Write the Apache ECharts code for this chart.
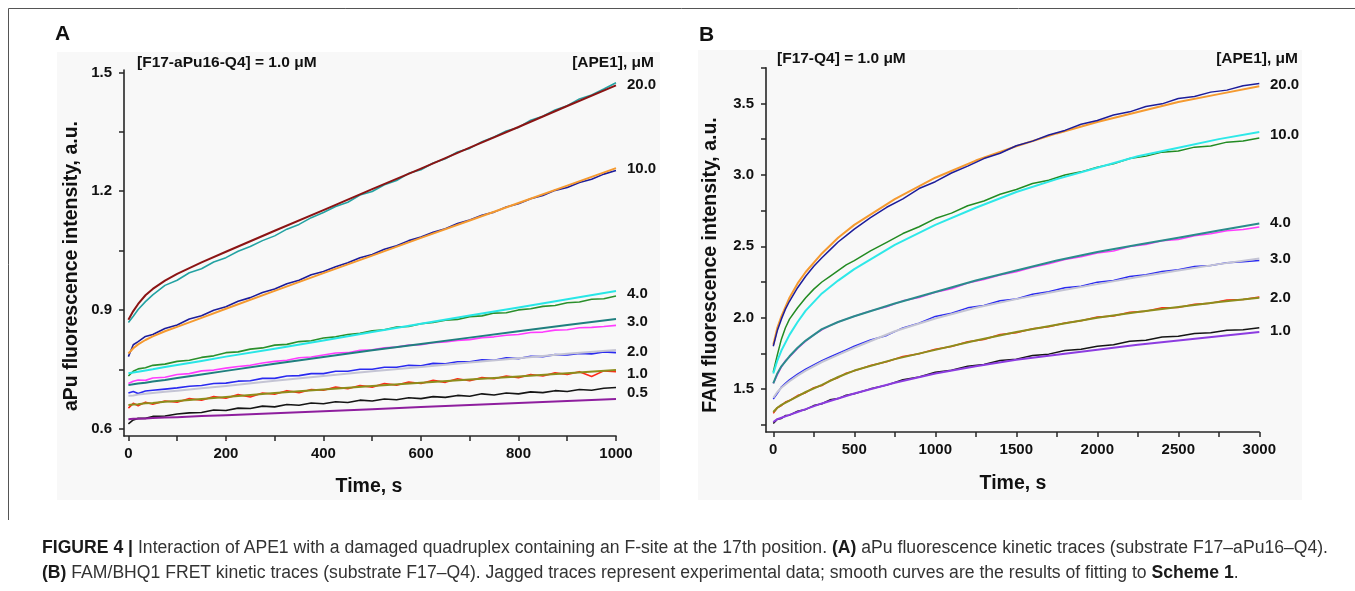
<!DOCTYPE html>
<html>
<head>
<meta charset="utf-8">
<script src="https://cdn.jsdelivr.net/npm/echarts@6/dist/echarts.min.js"></script>
<style>
html,body{margin:0;padding:0;background:#fff;}
#wrap{position:relative;width:1355px;height:591px;}
#chart{position:absolute;left:0;top:0;width:1355px;height:591px;}
#cap{position:absolute;left:42px;top:535px;width:1286px;font-family:"Liberation Sans",Arial,sans-serif;font-size:17.6px;line-height:25px;color:#333;}
#cap b{color:#1a1a1a;}
#cap .l1{text-align:justify;text-align-last:justify;white-space:nowrap;}
#cap .l2{white-space:nowrap;}
</style>
</head>
<body>
<div id="wrap">
<div id="chart"></div>
<div id="cap">
<div class="l1"><b>FIGURE 4 |</b> Interaction of APE1 with a damaged quadruplex containing an F-site at the 17th position. <b>(A)</b> aPu fluorescence kinetic traces (substrate F17–aPu16–Q4).</div>
<div class="l2"><b>(B)</b> FAM/BHQ1 FRET kinetic traces (substrate F17–Q4). Jagged traces represent experimental data; smooth curves are the results of fitting to <b>Scheme 1</b>.</div>
</div>
</div>
<script>
// ---------- Panel A : aPu fluorescence (substrate F17-aPu16-Q4) ----------
const tDataA = [0,10,20,35,50,75,100,125,150,175,200,225,250,275,300,325,350,375,400,425,450,475,500,525,550,575,600,625,650,675,700,725,750,775,800,825,850,875,900,925,950,975,1000];
const dataA20 = [0.868,0.884,0.901,0.921,0.938,0.962,0.975,0.994,1.004,1.021,1.032,1.048,1.060,1.075,1.087,1.104,1.116,1.133,1.146,1.161,1.172,1.190,1.199,1.216,1.227,1.245,1.254,1.271,1.282,1.299,1.308,1.325,1.337,1.352,1.361,1.379,1.389,1.405,1.416,1.433,1.443,1.458,1.474];
const dataA10 = [0.782,0.812,0.820,0.833,0.838,0.853,0.862,0.877,0.885,0.899,0.908,0.922,0.931,0.944,0.953,0.966,0.975,0.989,0.997,1.009,1.019,1.032,1.040,1.053,1.062,1.075,1.084,1.096,1.105,1.118,1.127,1.139,1.147,1.160,1.168,1.181,1.189,1.202,1.209,1.222,1.230,1.243,1.252];
const dataA4 = [0.733,0.745,0.751,0.754,0.760,0.763,0.770,0.773,0.780,0.784,0.792,0.794,0.801,0.804,0.811,0.813,0.820,0.822,0.829,0.832,0.838,0.841,0.847,0.850,0.857,0.858,0.865,0.868,0.874,0.876,0.883,0.885,0.892,0.893,0.900,0.903,0.909,0.911,0.918,0.920,0.927,0.928,0.935];
const dataA3 = [0.714,0.720,0.723,0.722,0.728,0.730,0.737,0.739,0.746,0.748,0.753,0.757,0.760,0.766,0.770,0.773,0.779,0.781,0.786,0.791,0.792,0.798,0.799,0.804,0.806,0.811,0.812,0.817,0.819,0.823,0.825,0.830,0.832,0.836,0.838,0.843,0.844,0.849,0.850,0.855,0.856,0.858,0.861];
const dataA2 = [0.690,0.694,0.689,0.695,0.697,0.700,0.703,0.707,0.709,0.714,0.715,0.720,0.721,0.727,0.727,0.733,0.734,0.739,0.739,0.745,0.745,0.750,0.750,0.755,0.755,0.760,0.759,0.765,0.764,0.769,0.769,0.774,0.773,0.779,0.777,0.783,0.782,0.787,0.786,0.790,0.789,0.794,0.792];
const dataA1 = [0.652,0.664,0.658,0.667,0.662,0.670,0.667,0.676,0.672,0.681,0.677,0.686,0.680,0.690,0.687,0.696,0.691,0.699,0.697,0.705,0.701,0.709,0.705,0.714,0.710,0.718,0.714,0.722,0.717,0.726,0.721,0.729,0.726,0.733,0.729,0.737,0.733,0.741,0.737,0.744,0.732,0.746,0.744];
const dataA05 = [0.612,0.622,0.626,0.626,0.631,0.632,0.637,0.640,0.641,0.647,0.646,0.652,0.651,0.657,0.655,0.661,0.659,0.665,0.663,0.668,0.666,0.672,0.670,0.675,0.673,0.678,0.676,0.681,0.679,0.684,0.682,0.688,0.685,0.690,0.688,0.693,0.691,0.696,0.694,0.699,0.697,0.702,0.704];

const tFitA = [0,10,20,35,50,75,100,150,200,300,400,500,600,700,800,900,1000];
const fitA20 = [0.875,0.897,0.915,0.937,0.953,0.974,0.991,1.020,1.047,1.100,1.152,1.205,1.257,1.310,1.362,1.415,1.467];
const fitA10 = [0.790,0.803,0.813,0.824,0.833,0.846,0.857,0.880,0.903,0.948,0.993,1.037,1.082,1.126,1.170,1.214,1.258];
const fitA4 = [0.740,0.742,0.744,0.747,0.750,0.756,0.761,0.771,0.782,0.802,0.823,0.844,0.865,0.886,0.906,0.927,0.948];
const fitA3 = [0.710,0.712,0.714,0.716,0.719,0.723,0.728,0.737,0.746,0.764,0.781,0.798,0.814,0.830,0.846,0.862,0.877];
const fitA2 = [0.683,0.684,0.686,0.688,0.690,0.693,0.696,0.702,0.708,0.721,0.733,0.745,0.756,0.767,0.778,0.789,0.799];
const fitA1 = [0.660,0.661,0.662,0.664,0.665,0.668,0.670,0.675,0.680,0.690,0.699,0.708,0.716,0.724,0.732,0.740,0.748];
const fitA05 = [0.624,0.625,0.625,0.626,0.627,0.628,0.629,0.632,0.634,0.639,0.644,0.649,0.655,0.660,0.665,0.670,0.675];

const xTicksA = [0,100,200,300,400,500,600,700,800,900,1000];
const xLabelsA = [0,200,400,600,800,1000];
const yTicksA = [0.6,0.75,0.9,1.05,1.2,1.35,1.5];
const yLabelsA = [0.6,0.9,1.2,1.5];
const concA = ['20.0','10.0','4.0','3.0','2.0','1.0','0.5'];

// ---------- Panel B : FAM/BHQ1 FRET (substrate F17-Q4) ----------
const tDataB = [0,25,50,75,100,150,200,250,300,350,400,450,500,600,700,800,900,1000,1100,1200,1300,1400,1500,1600,1700,1800,1900,2000,2100,2200,2300,2400,2500,2600,2700,2800,2900,3000];
const dataB20 = [1.80,1.91,1.99,2.06,2.115,2.21,2.29,2.36,2.42,2.475,2.53,2.575,2.62,2.70,2.773,2.832,2.904,2.952,3.013,3.061,3.114,3.151,3.204,3.236,3.279,3.311,3.354,3.381,3.419,3.441,3.479,3.497,3.534,3.548,3.579,3.593,3.624,3.64];
const dataB10 = [1.62,1.74,1.85,1.93,1.99,2.07,2.14,2.20,2.25,2.29,2.33,2.37,2.40,2.468,2.527,2.589,2.637,2.694,2.732,2.784,2.817,2.864,2.897,2.939,2.962,2.999,3.021,3.054,3.077,3.114,3.131,3.159,3.167,3.194,3.202,3.229,3.237,3.258];
const dataB4 = [1.54,1.60,1.655,1.70,1.725,1.785,1.835,1.88,1.915,1.945,1.97,1.99,2.01,2.048,2.077,2.118,2.142,2.178,2.202,2.243,2.267,2.298,2.322,2.353,2.377,2.408,2.427,2.453,2.467,2.498,2.512,2.538,2.547,2.573,2.587,2.608,2.617,2.635];
const dataB3 = [1.43,1.47,1.515,1.54,1.565,1.605,1.64,1.67,1.70,1.725,1.75,1.775,1.80,1.844,1.876,1.929,1.961,2.009,2.031,2.069,2.086,2.119,2.131,2.164,2.181,2.209,2.221,2.249,2.261,2.289,2.301,2.324,2.336,2.359,2.366,2.384,2.391,2.40];
const dataB2 = [1.33,1.37,1.385,1.41,1.42,1.455,1.475,1.51,1.525,1.56,1.58,1.612,1.628,1.665,1.692,1.728,1.748,1.78,1.798,1.832,1.848,1.882,1.895,1.922,1.936,1.963,1.978,2.005,2.012,2.038,2.046,2.07,2.072,2.095,2.102,2.124,2.128,2.145];
const dataB1 = [1.26,1.29,1.295,1.315,1.318,1.345,1.358,1.385,1.398,1.425,1.434,1.458,1.468,1.502,1.528,1.566,1.585,1.618,1.632,1.66,1.672,1.70,1.71,1.735,1.745,1.77,1.78,1.80,1.81,1.835,1.842,1.865,1.87,1.89,1.895,1.912,1.915,1.93];

const tFitB = [0,25,50,100,150,200,300,400,500,750,1000,1250,1500,1750,2000,2250,2500,2750,3000];
const fitB20 = [1.81,1.93,2.01,2.14,2.24,2.32,2.45,2.56,2.65,2.83,2.98,3.10,3.20,3.29,3.37,3.44,3.51,3.565,3.62];
const fitB10 = [1.61,1.70,1.77,1.88,1.97,2.05,2.17,2.26,2.34,2.51,2.65,2.77,2.88,2.97,3.05,3.13,3.19,3.25,3.30];
const fitB4 = [1.54,1.61,1.66,1.73,1.79,1.84,1.92,1.97,2.01,2.10,2.18,2.26,2.33,2.40,2.46,2.51,2.56,2.61,2.66];
const fitB3 = [1.44,1.48,1.51,1.555,1.595,1.63,1.69,1.74,1.79,1.905,1.995,2.07,2.13,2.185,2.235,2.285,2.33,2.375,2.415];
const fitB2 = [1.34,1.37,1.39,1.42,1.45,1.48,1.53,1.585,1.63,1.71,1.775,1.84,1.90,1.95,2.00,2.04,2.075,2.11,2.14];
const fitB1 = [1.27,1.29,1.30,1.32,1.34,1.36,1.40,1.435,1.47,1.545,1.61,1.66,1.705,1.74,1.775,1.81,1.84,1.87,1.90];

const xTicksB = [0,250,500,750,1000,1250,1500,1750,2000,2250,2500,2750,3000];
const xLabelsB = [0,500,1000,1500,2000,2500,3000];
const yTicksB = [1.25,1.5,1.75,2.0,2.25,2.5,2.75,3.0,3.25,3.5,3.75];
const yLabelsB = [1.5,2.0,2.5,3.0,3.5];
const concB = ['20.0','10.0','4.0','3.0','2.0','1.0'];

// ---------- build ----------
const FONT = '"Liberation Sans", Arial, Helvetica, sans-serif';
const zip = (t, v) => t.map((x, i) => [x, v[i]]);
const axisCol = '#262626';

function mkX(idx, min, max, ticks, labels) {
  return {
    type: 'value', gridIndex: idx, min: min, max: max,
    axisLine: { show: true, onZero: false, lineStyle: { color: axisCol, width: 1.6 } },
    axisTick: { show: true, length: 5, customValues: ticks, lineStyle: { color: axisCol, width: 1.5 } },
    axisLabel: { customValues: labels, fontFamily: FONT, fontSize: 15, fontWeight: 'bold', color: '#111', margin: 10,
                 formatter: v => String(v) },
    splitLine: { show: false }
  };
}
function mkY(idx, min, max, ticks, labels) {
  return {
    type: 'value', gridIndex: idx, min: min, max: max,
    axisLine: { show: true, onZero: false, lineStyle: { color: axisCol, width: 1.6 } },
    axisTick: { show: true, length: 5, customValues: ticks, lineStyle: { color: axisCol, width: 1.5 } },
    axisLabel: { customValues: labels, fontFamily: FONT, fontSize: 15, fontWeight: 'bold', color: '#111', margin: 12,
                 formatter: v => Number(v).toFixed(1) },
    splitLine: { show: false }
  };
}
function line(ax, t, v, color, width, z) {
  return {
    type: 'line', xAxisIndex: ax, yAxisIndex: ax, data: zip(t, v),
    showSymbol: false, symbol: 'none', smooth: false,
    lineStyle: { color: color, width: width, join: 'round' }, z: z, silent: true, animation: false
  };
}

const series = [
  // Panel A experimental traces
  line(0, tDataA, dataA20, '#23a2a2', 1.6, 2),
  line(0, tDataA, dataA10, '#1d1d9a', 1.6, 2),
  line(0, tDataA, dataA4, '#2b8f2b', 1.6, 2),
  line(0, tDataA, dataA3, '#ff3cff', 1.6, 2),
  line(0, tDataA, dataA2, '#2a2af0', 1.6, 2),
  line(0, tDataA, dataA1, '#ff2a1a', 1.6, 2),
  line(0, tDataA, dataA05, '#151515', 1.6, 2),
  // Panel A fits
  line(0, tFitA, fitA20, '#8b1414', 2, 3),
  line(0, tFitA, fitA10, '#f59a30', 2, 3),
  line(0, tFitA, fitA4, '#28e6e6', 2, 3),
  line(0, tFitA, fitA3, '#1f7f7f', 2, 3),
  line(0, tFitA, fitA2, '#c4c4d4', 2, 3),
  line(0, tFitA, fitA1, '#8d8d1c', 2, 3),
  line(0, tFitA, fitA05, '#8e1e9e', 2, 3),
  // Panel B experimental traces
  line(1, tDataB, dataB20, '#1d1d9a', 1.5, 3),
  line(1, tDataB, dataB10, '#228b22', 1.5, 2),
  line(1, tDataB, dataB4, '#ff3cff', 1.5, 2),
  line(1, tDataB, dataB3, '#2a2af0', 1.5, 2),
  line(1, tDataB, dataB2, '#ff2a1a', 1.5, 2),
  line(1, tDataB, dataB1, '#151515', 1.5, 2),
  // Panel B fits
  line(1, tFitB, fitB20, '#f59a30', 2, 2.5),
  line(1, tFitB, fitB10, '#2ee8e8', 2, 3),
  line(1, tFitB, fitB4, '#2a8c8c', 2, 3),
  line(1, tFitB, fitB3, '#c4c4d4', 2, 3),
  line(1, tFitB, fitB2, '#8d8d1c', 2, 3),
  line(1, tFitB, fitB1, '#8c3ce0', 2, 3)
];

// label text positions (pixel anchors for text only)
const concYA = [85, 169, 294, 322, 352, 374, 393];
const concYB = [85, 135, 223, 259, 298, 331];

function txt(x, y, s, size, opts) {
  opts = opts || {};
  return {
    type: 'text', x: x, y: y, rotation: opts.rot || 0, z: 10, silent: true,
    style: {
      text: s, fill: opts.fill || '#111', fontFamily: opts.font || FONT,
      fontSize: size, fontWeight: opts.weight || 'bold',
      align: opts.align || 'left', verticalAlign: 'middle'
    }
  };
}

const graphic = [
  // figure frame
  { type: 'line', shape: { x1: 8.5, y1: 8.5, x2: 1355, y2: 8.5 }, style: { stroke: '#555', lineWidth: 1 }, silent: true },
  { type: 'line', shape: { x1: 8.5, y1: 8.5, x2: 8.5, y2: 520 }, style: { stroke: '#555', lineWidth: 1 }, silent: true },
  // faint panel backgrounds
  { type: 'rect', shape: { x: 57, y: 52, width: 603, height: 448 }, style: { fill: '#f8f8f8' }, z: -10, silent: true },
  { type: 'rect', shape: { x: 698, y: 50, width: 604, height: 450 }, style: { fill: '#f8f8f8' }, z: -10, silent: true },
  // panel letters
  txt(55, 34, 'A', 21),
  txt(699, 35, 'B', 21),
  // headers
  txt(137, 63, '[F17-aPu16-Q4] = 1.0 μM', 15.5),
  txt(654, 63, '[APE1], μM', 15.5, { align: 'right' }),
  txt(777, 59, '[F17-Q4] = 1.0 μM', 15.5),
  txt(1298, 59, '[APE1], μM', 15.5, { align: 'right' }),
  // axis titles
  txt(72, 266, 'aPu fluorescence intensity, a.u.', 19.5, { rot: Math.PI / 2, align: 'center' }),
  txt(369, 487, 'Time, s', 19.5, { align: 'center' }),
  txt(711, 265, 'FAM fluorescence intensity, a.u.', 19.5, { rot: Math.PI / 2, align: 'center' }),
  txt(1013, 484, 'Time, s', 19.5, { align: 'center' })
];
concA.forEach((c, i) => graphic.push(txt(627, concYA[i], c, 15)));
concB.forEach((c, i) => graphic.push(txt(1270, concYB[i], c, 15)));

const option = {
  animation: false,
  backgroundColor: 'transparent',
  grid: [
    { left: 124, top: 70, width: 492, height: 366, containLabel: false },
    { left: 766, top: 67.7, width: 493.3, height: 364.3, containLabel: false }
  ],
  xAxis: [ mkX(0, -9, 1000, xTicksA, xLabelsA), mkX(1, -45, 3000, xTicksB, xLabelsB) ],
  yAxis: [ mkY(0, 0.5815, 1.506, yTicksA, yLabelsA), mkY(1, 1.2, 3.75, yTicksB, yLabelsB) ],
  series: series,
  graphic: graphic
};

const chart = echarts.init(document.getElementById('chart'), null, { renderer: 'canvas' });
chart.setOption(option);
</script>
</body>
</html>
